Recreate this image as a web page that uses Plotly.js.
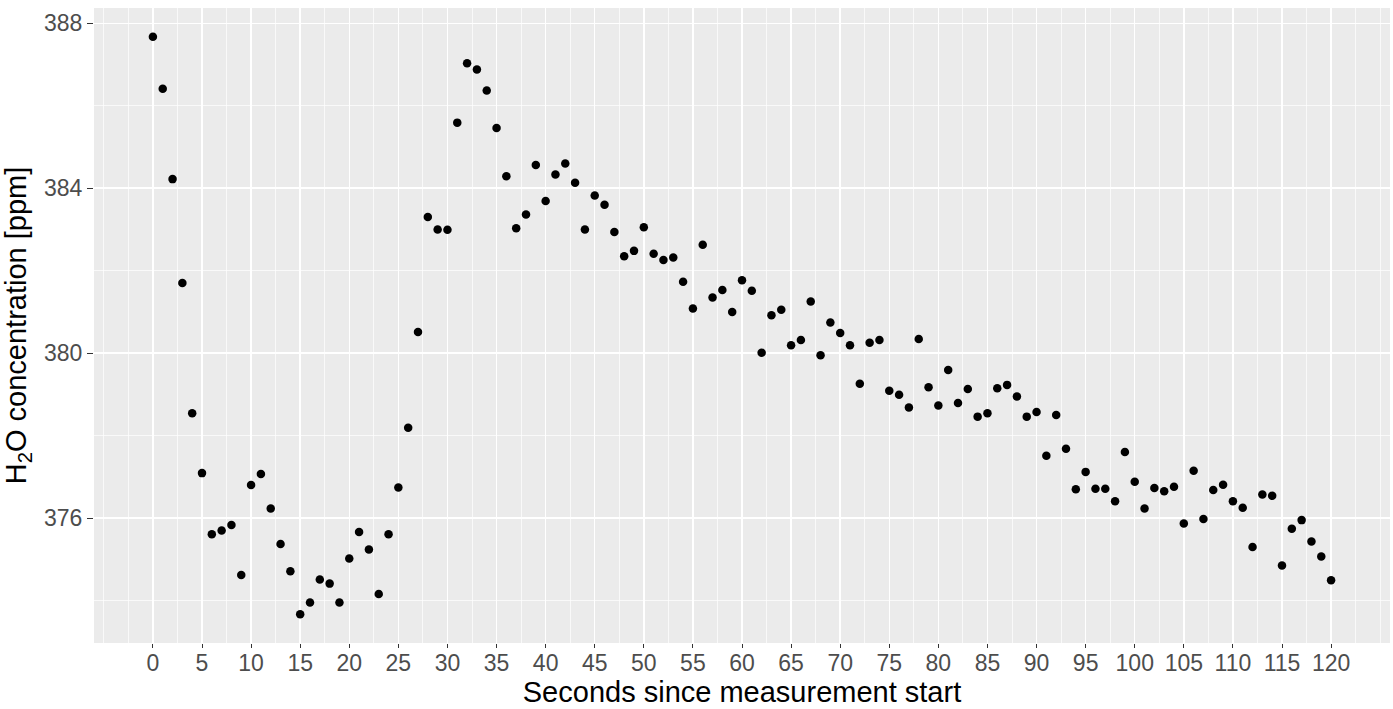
<!DOCTYPE html>
<html>
<head>
<meta charset="utf-8">
<script src="https://cdn.plot.ly/plotly-3.0.1.min.js"></script>
<style>
  html, body { margin: 0; padding: 0; background: #ffffff; }
  #chart { width: 1393px; height: 709px; }
</style>
</head>
<body>
<div id="chart"></div>
<script>
// Seconds since measurement start
const seconds = Array.from({length: 121}, (_, i) => i);

// H2O concentration [ppm]
const h2o = [
  387.67, 386.41, 384.22, 381.70, 378.54, 377.09, 375.61, 375.70, 375.83, 374.62,
  376.80, 377.07, 376.23, 375.37, 374.71, 373.67, 373.95, 374.51, 374.41, 373.95,
  375.02, 375.66, 375.24, 374.16, 375.61, 376.74, 378.19, 380.51, 383.30, 383.00,
  382.99, 385.59, 387.03, 386.88, 386.37, 385.46, 384.29, 383.03, 383.36, 384.56,
  383.69, 384.33, 384.60, 384.13, 383.00, 383.82, 383.60, 382.94, 382.35, 382.48,
  383.05, 382.41, 382.26, 382.32, 381.73, 381.08, 382.63, 381.35, 381.53, 381.00,
  381.77, 381.51, 380.01, 380.92, 381.05, 380.19, 380.32, 381.25, 379.95, 380.74,
  380.49, 380.19, 379.26, 380.25, 380.32, 379.09, 378.99, 378.68, 380.34, 379.17,
  378.73, 379.59, 378.79, 379.13, 378.46, 378.54, 379.15, 379.23, 378.95, 378.46,
  378.57, 377.51, 378.50, 377.68, 376.70, 377.12, 376.71, 376.71, 376.41, 377.60,
  376.88, 376.23, 376.73, 376.65, 376.76, 375.87, 377.15, 375.98, 376.68, 376.81,
  376.41, 376.25, 375.30, 376.57, 376.54, 374.85, 375.74, 375.95, 375.43, 375.07,
  374.49
];

// Tick labels
const xTicks = [0,5,10,15,20,25,30,35,40,45,50,55,60,65,70,75,80,85,90,95,100,105,110,115,120];
const xMinor = [-5,-2.5,2.5,7.5,12.5,17.5,22.5,27.5,32.5,37.5,42.5,47.5,52.5,57.5,62.5,67.5,72.5,77.5,82.5,87.5,92.5,97.5,102.5,107.5,112.5,117.5,122.5,125];
const yTicks = [376, 380, 384, 388];
const yMinor = [374, 378, 382, 386];

// ggplot-like 5% expansion of the data range
function expand(arr) {
  const lo = Math.min(...arr), hi = Math.max(...arr);
  const pad = (hi - lo) * 0.05;
  return [lo - pad, hi + pad];
}

const FONT = 'Liberation Sans, Arial, Helvetica, sans-serif';

const trace = {
  type: 'scatter',
  mode: 'markers',
  x: seconds,
  y: h2o,
  marker: { color: '#000000', size: 8.5 },
  hoverinfo: 'x+y'
};

const layout = {
  width: 1393,
  height: 709,
  paper_bgcolor: '#ffffff',
  plot_bgcolor: '#EBEBEB',
  margin: { l: 94, r: 3, t: 8, b: 66 },
  showlegend: false,
  font: { family: FONT },
  xaxis: {
    range: expand(seconds),
    tickmode: 'array',
    tickvals: xTicks,
    ticktext: xTicks.map(String),
    tickfont: { family: FONT, size: 23, color: '#4D4D4D' },
    ticks: 'outside',
    ticklen: 4,
    tickwidth: 1,
    tickcolor: '#333333',
    ticklabelstandoff: -5,
    showgrid: true,
    gridcolor: '#ffffff',
    gridwidth: 1.4,
    zeroline: false,
    showline: false,
    minor: { tickvals: xMinor, showgrid: true, gridcolor: '#ffffff', gridwidth: 0.7, ticks: '' },
    title: { text: 'Seconds since measurement start', font: { family: FONT, size: 29, color: '#000000' }, standoff: 6 },
    automargin: false
  },
  yaxis: {
    range: expand(h2o),
    tickmode: 'array',
    tickvals: yTicks,
    ticktext: yTicks.map(String),
    tickfont: { family: FONT, size: 23, color: '#4D4D4D' },
    ticks: 'outside',
    ticklen: 6,
    tickwidth: 1,
    tickcolor: '#333333',
    showgrid: true,
    gridcolor: '#ffffff',
    gridwidth: 1.4,
    zeroline: false,
    showline: false,
    minor: { tickvals: yMinor, showgrid: true, gridcolor: '#ffffff', gridwidth: 0.7, ticks: '' },
    title: { text: 'H<sub>2</sub>O concentration [ppm]', font: { family: FONT, size: 29, color: '#000000' }, standoff: 8 },
    automargin: false
  }
};

Plotly.newPlot('chart', [trace], layout, { displayModeBar: false, staticPlot: true });
</script>
</body>
</html>
